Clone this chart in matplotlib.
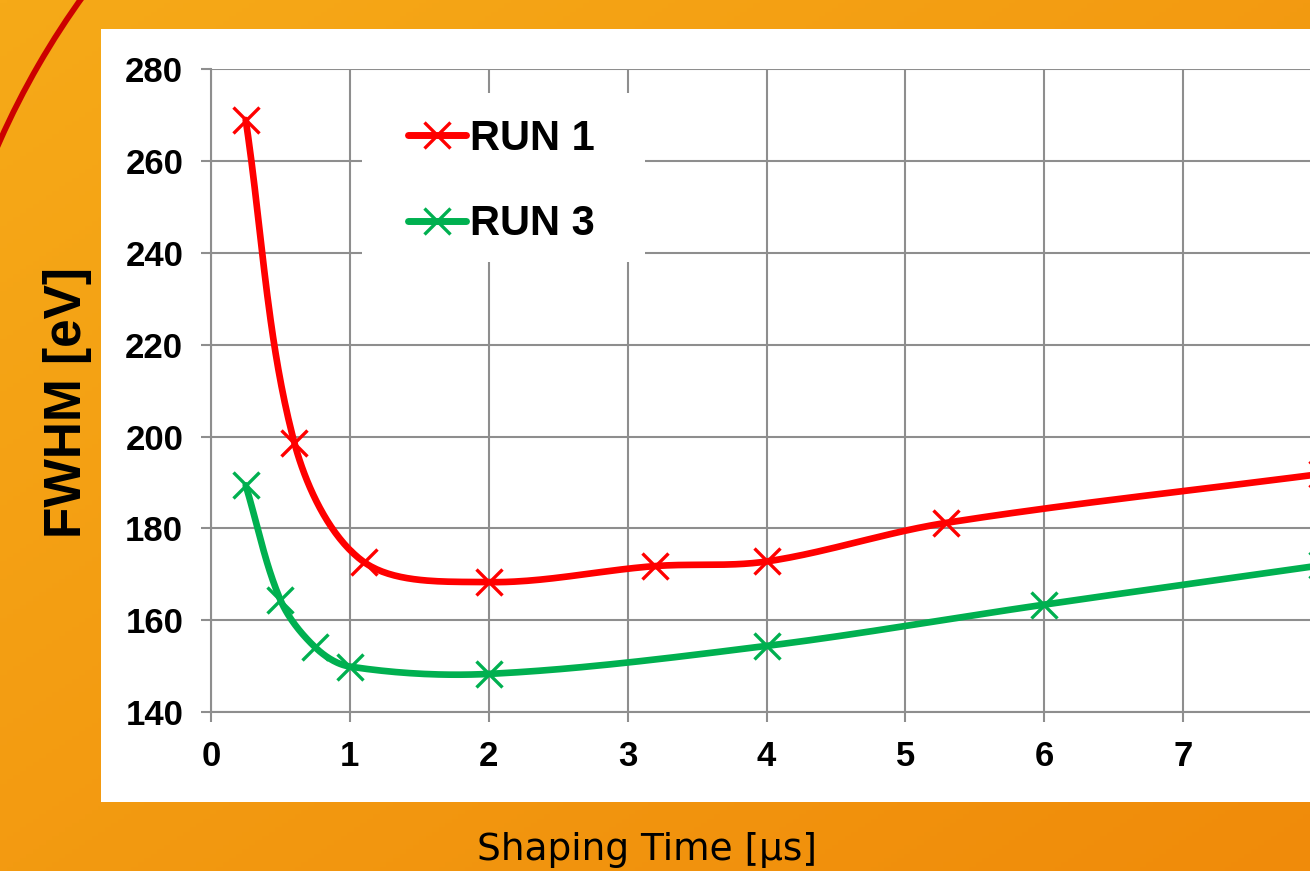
import numpy as np
import matplotlib
matplotlib.use("Agg")
import matplotlib.pyplot as plt
from matplotlib.patches import Rectangle, Arc

# data
run1_x = [0.25, 0.6, 1.1, 2.0, 3.2, 4.0, 5.29, 8.0]
run1_y = [269.0, 198.7, 172.7, 168.3, 171.8, 172.8, 181.2, 191.9]
run3_x = [0.25, 0.5, 0.75, 1.0, 2.0, 4.0, 6.0, 8.0]
run3_y = [189.4, 164.4, 154.1, 149.9, 148.3, 154.4, 163.4, 172.0]
labels = ["RUN 1", "RUN 3"]
x_ticks = list(range(0, 8))
y_ticks = list(range(140, 281, 20))


def excel_smooth(xs, ys, sx=138.9, sy=4.59, n=40):
    # smoothed line like excel: bezier segments, tangents scaled by chord length (screen space)
    p = np.column_stack([np.asarray(xs) * sx, np.asarray(ys) * sy]).astype(float)
    pts = np.vstack([p[0], p, p[-1]])
    t = np.linspace(0, 1, n)[:, None]
    segs = []
    for i in range(1, len(pts) - 2):
        p0, p1, p2, p3 = pts[i - 1], pts[i], pts[i + 1], pts[i + 2]
        l01 = np.hypot(*(p1 - p0))
        l12 = np.hypot(*(p2 - p1))
        l23 = np.hypot(*(p3 - p2))
        c1 = p1 + (p2 - p0) * l12 / (l01 + l12) / 3
        c2 = p2 - (p3 - p1) * l12 / (l12 + l23) / 3
        seg = (1 - t)**3 * p1 + 3 * (1 - t)**2 * t * c1 + 3 * (1 - t) * t**2 * c2 + t**3 * p2
        segs.append(seg if i == 1 else seg[1:])
    s = np.vstack(segs)
    return s[:, 0] / sx, s[:, 1] / sy


W, H = 1310, 871
fig = plt.figure(figsize=(W / 100, H / 100), dpi=100)

# slide background
bg = fig.add_axes([0, 0, 1, 1], zorder=-10)
gx, gy = np.meshgrid(np.linspace(0, 1, 200), np.linspace(0, 1, 200))
g = (gx + gy) / 2
c0 = np.array([246, 170, 24]) / 255
c1 = np.array([240, 139, 10]) / 255
img = c0[None, None, :] * (1 - g[..., None]) + c1[None, None, :] * g[..., None]
bg.imshow(img, extent=[0, W, H, 0], aspect="auto")
bg.add_patch(Rectangle((101, 29), 1300, 773, facecolor="white", edgecolor="none"))
bg.add_patch(Arc((740, 470), 1620, 1620, theta1=198, theta2=222, color="#CC0000", lw=4.2))
bg.set_xlim(0, W)
bg.set_ylim(H, 0)
bg.axis("off")

# chart
ax = fig.add_axes([211 / W, (H - 712) / H, 1250 / W, 642.5 / H])
ax.set_facecolor("none")
ax.set_axisbelow(True)
grid_c = "#8E8E8E"
ax.grid(True, color=grid_c, linewidth=1.5)
for s in ["top", "right"]:
    ax.spines[s].set_visible(False)
for s in ["left", "bottom"]:
    ax.spines[s].set_color(grid_c)
    ax.spines[s].set_linewidth(1.5)
ax.tick_params(direction="out", length=7, width=1.5, color=grid_c, pad=13)

ax.set_xlim(0, 9)
ax.set_ylim(140, 280)
ax.set_xticks(x_ticks)
ax.set_yticks(y_ticks)
tick_font = dict(family="Liberation Sans", weight="bold", size=25)
ax.set_xticklabels([str(v) for v in x_ticks], fontdict=tick_font)
ax.set_yticklabels([str(v) for v in y_ticks], fontdict=tick_font)

# white box behind the legend
ax.add_patch(Rectangle((0.1208, 0.700), 0.2264, 0.263, transform=ax.transAxes,
                       facecolor="white", edgecolor="none", zorder=1))

red = "#FF0000"
green = "#00B050"
for xs, ys, col, lab in [(run1_x, run1_y, red, labels[0]), (run3_x, run3_y, green, labels[1])]:
    sx, sy = excel_smooth(xs, ys)
    ax.plot(sx, sy, color=col, lw=4.8, solid_capstyle="round", zorder=3, clip_on=False)
    ax.plot(xs, ys, ls="none", marker="x", ms=19, mew=2.4, color=col, zorder=4, clip_on=False)
    ax.plot([], [], color=col, lw=5, marker="x", ms=19, mew=2.4,
            solid_capstyle="round", label=lab)

leg = ax.legend(loc="center left", bbox_to_anchor=(0.1576, 0.8256), frameon=False,
                prop=dict(family="Liberation Sans", weight="bold", size=30),
                handlelength=1.4, handletextpad=0.08, labelspacing=1.1,
                borderpad=0, borderaxespad=0)

fig.text(67 / W, 1 - 402 / H, "FWHM [eV]", rotation=90, ha="center", va="center",
         family="Liberation Sans", weight="bold", size=37)
fig.text(647 / W, 1 - 860 / H, "Shaping Time [\u03bcs]", ha="center", va="baseline",
         family="DejaVu Sans", size=27)

fig.savefig("out.png", dpi=100)
